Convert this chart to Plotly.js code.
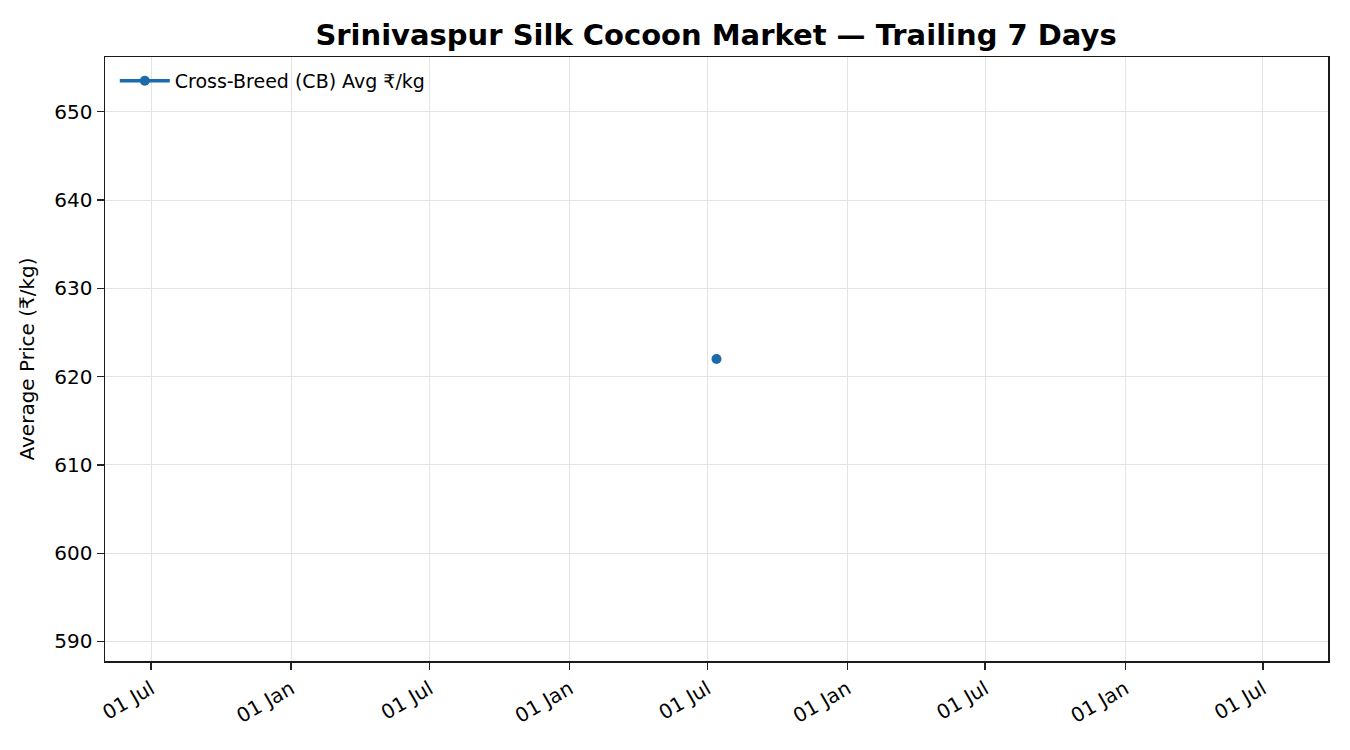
<!DOCTYPE html>
<html>
<head>
<meta charset="utf-8">
<script src="https://cdn.plot.ly/plotly-3.0.1.min.js"></script>
<style>
  html, body { margin: 0; padding: 0; background: #fff; }
  #chart { width: 1350px; height: 750px; }
</style>
</head>
<body>
<div id="chart"></div>
<script>
// данные: одна запись за последние 7 дней
const dates = ['2025-07-13'];
const avgPrice = [622];
const seriesName = 'Cross-Breed (CB) Avg ₹/kg';
const chartTitle = 'Srinivaspur Silk Cocoon Market — Trailing 7 Days';
const yTitle = 'Average Price (₹/kg)';
const yTicks = [590, 600, 610, 620, 630, 640, 650];

// одна точка: диапазон как у matplotlib (±2 года и 5% поля)
function paddedDateRange(d) {
  const day = 86400000;
  const t = new Date(d + 'T00:00:00Z').getTime();
  const half = (2 * 365.2425 + 0.05 * 4 * 365.2425) * day;
  return [new Date(t - half).toISOString(), new Date(t + half).toISOString()];
}
function paddedRange(v) {
  const lo = v - 0.05 * Math.abs(v), hi = v + 0.05 * Math.abs(v);
  const m = 0.05 * (hi - lo);
  return [lo - m, hi + m];
}

const blue = '#1c6bac';
const data = [{
  x: dates,
  y: avgPrice,
  name: seriesName,
  type: 'scatter',
  mode: 'lines+markers',
  line: { color: blue, width: 3.5 },
  marker: { color: blue, size: 10 },
  showlegend: true,
}];

const axisCommon = {
  showline: true,
  linecolor: '#1a1a1a',
  linewidth: 1.5,
  mirror: true,
  ticks: 'outside',
  ticklen: 7,
  tickwidth: 1.3,
  tickcolor: '#222',
  showgrid: true,
  gridcolor: '#e3e3e3',
  gridwidth: 1,
  zeroline: false,
  tickfont: { family: 'DejaVu Sans', size: 20, color: '#000' },
};

const layout = {
  width: 1350,
  height: 750,
  paper_bgcolor: '#fff',
  plot_bgcolor: '#fff',
  font: { family: 'DejaVu Sans', color: '#000' },
  title: {
    text: chartTitle,
    font: { family: 'DejaVu Sans', size: 29, weight: 'bold', color: '#000' },
    x: 0.5304,
    xanchor: 'center',
    y: 0.954,
    yanchor: 'middle',
  },
  margin: { l: 105, r: 22, t: 57, b: 89, pad: 0 },
  xaxis: Object.assign({}, axisCommon, {
    type: 'date',
    range: paddedDateRange(dates[0]),
    tick0: '2000-01-01',
    dtick: 'M6',
    tickformat: '%d %b',
    tickangle: -30,
  }),
  yaxis: Object.assign({}, axisCommon, {
    range: paddedRange(avgPrice[0]),
    tickmode: 'array',
    tickvals: yTicks,
    ticktext: yTicks.map(String),
    title: { text: yTitle, font: { family: 'DejaVu Sans', size: 20 }, standoff: 14 },
  }),
  showlegend: true,
  legend: {
    x: 0.008,
    y: 0.992,
    xanchor: 'left',
    yanchor: 'top',
    bgcolor: 'rgba(255,255,255,0)',
    borderwidth: 0,
    font: { family: 'DejaVu Sans', size: 19, color: '#000' },
    itemwidth: 50,
  },
};

Plotly.newPlot('chart', data, layout, { staticPlot: true });
</script>
</body>
</html>
